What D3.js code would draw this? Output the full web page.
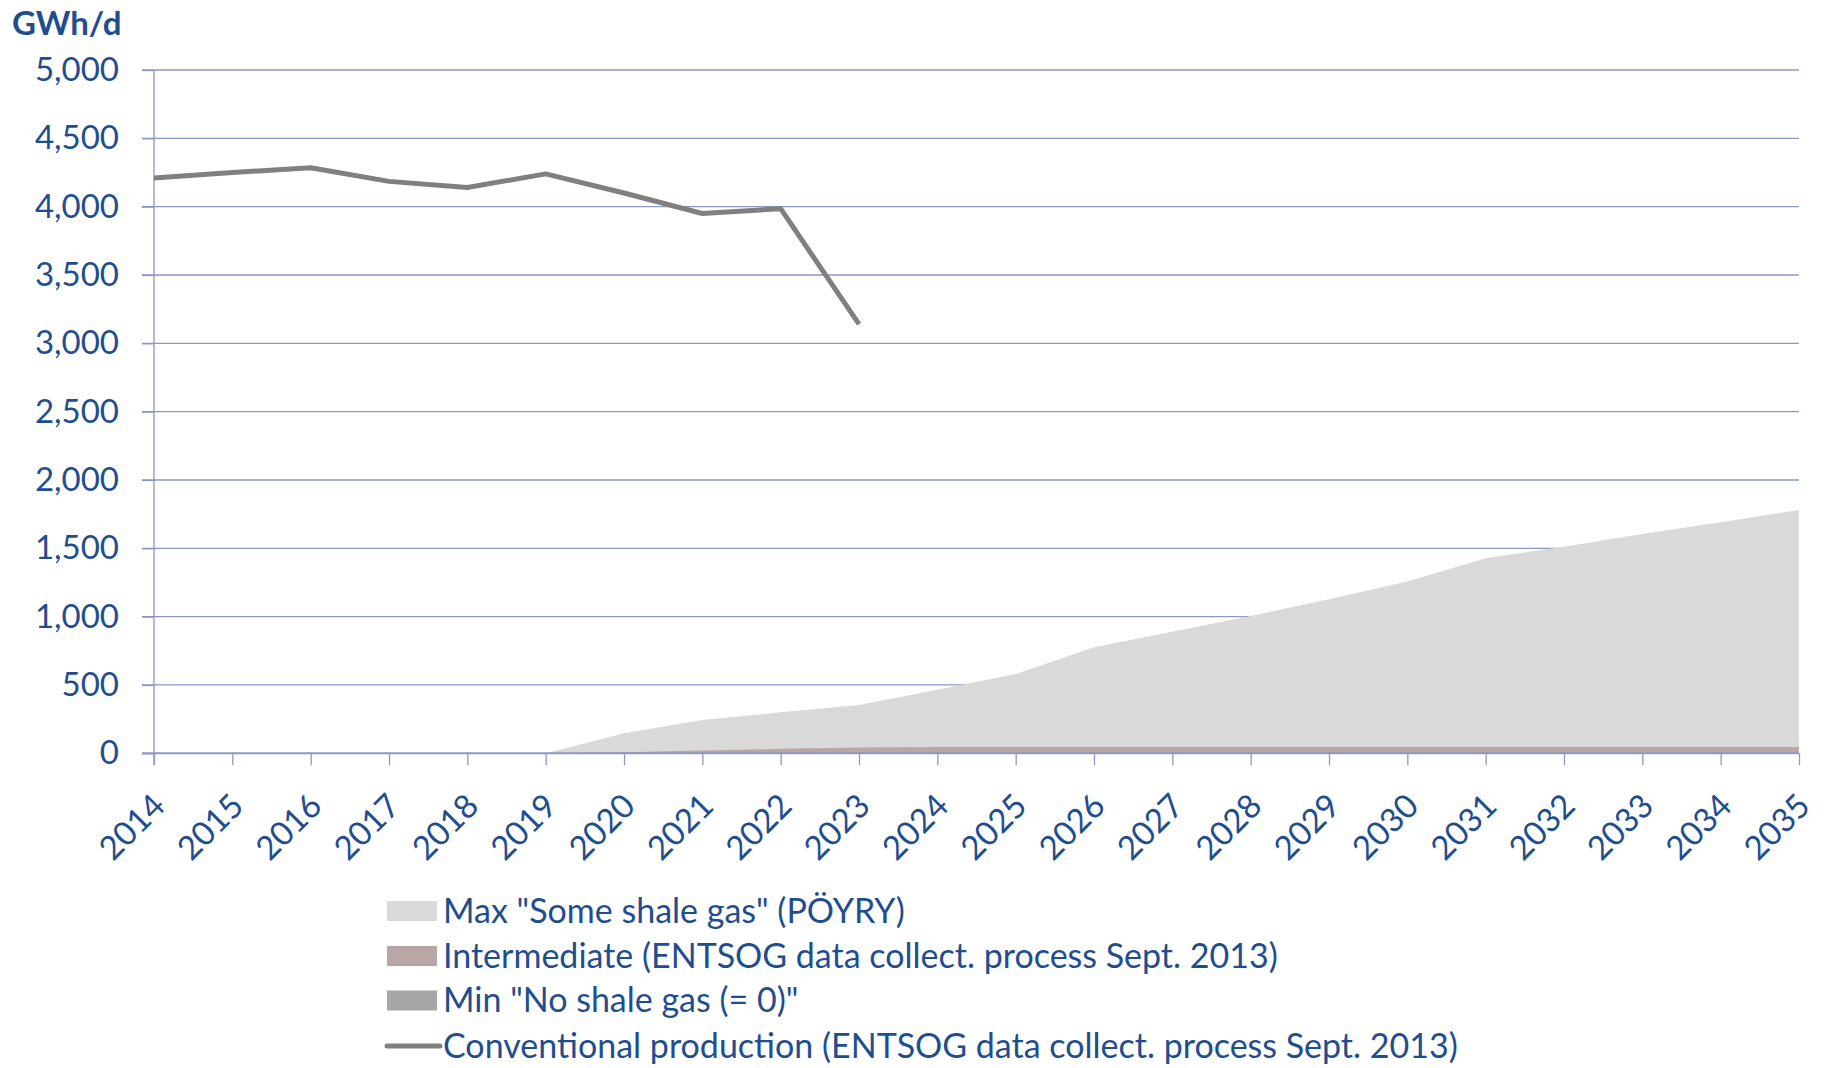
<!DOCTYPE html>
<html>
<head>
<meta charset="utf-8">
<script src="https://cdn.jsdelivr.net/npm/d3@7/dist/d3.min.js"></script>
<style>
  body { margin: 0; background: #fff; }
  text { font-family: Lato, "Open Sans", sans-serif; fill: #1F4E8F; }
</style>
</head>
<body>
<svg id="chart" width="1824" height="1068"></svg>
<script>
// years on the x axis
var years = d3.range(2014, 2036);
var yTicks = [0, 500, 1000, 1500, 2000, 2500, 3000, 3500, 4000, 4500, 5000];

// conventional production 2014-2023
var convYears = [2014, 2015, 2016, 2017, 2018, 2019, 2020, 2021, 2022, 2023];
var convValues = [4210, 4250, 4285, 4185, 4140, 4240, 4100, 3950, 3985, 3140];

// shale scenarios 2018-2035
var shaleYears = [2018, 2019, 2020, 2021, 2022, 2023, 2024, 2025, 2026, 2027, 2028, 2029, 2030, 2031, 2032, 2033, 2034, 2035];
var maxShale = [0, 0, 146, 244, 300, 354, 465, 580, 776, 890, 1005, 1127, 1258, 1427, 1512, 1605, 1690, 1780];
var intermShale = [0, 0, 8, 20, 33, 42, 46, 46, 46, 46, 46, 46, 46, 46, 46, 46, 46, 46];
var minShale = [0, 0, 0, 0, 0, 0, 0, 0, 0, 0, 0, 0, 0, 0, 0, 0, 0, 0];

var legendLabels = [
    'Max "Some shale gas" (PÖYRY)',
    'Intermediate (ENTSOG data collect. process Sept. 2013)',
    'Min "No shale gas (= 0)"',
    'Conventional production (ENTSOG data collect. process Sept. 2013)'
];
var legendColors = ['#D9D9D9', '#B9A6A6', '#A6A6A6', '#808080'];

var gridColor = '#8C97C4';
var svg = d3.select('#chart');

var x = d3.scaleLinear().domain([2014, 2035]).range([154, 1799]);
var y = d3.scaleLinear().domain([0, 5000]).range([753.3, 70]);

// gridlines
svg.append('g')
    .selectAll('line')
    .data(yTicks.filter(function(d) { return d > 0; }))
    .enter().append('line')
    .attr('x1', 142).attr('x2', 1799)
    .attr('y1', function(d) { return y(d); })
    .attr('y2', function(d) { return y(d); })
    .attr('stroke', gridColor)
    .attr('stroke-width', 1.3);

// areas (overlapping, not stacked)
function areaOf(vals) {
    return d3.area()
        .x(function(d, i) { return x(shaleYears[i]); })
        .y0(y(0))
        .y1(function(d) { return y(d); })(vals);
}
[maxShale, intermShale, minShale].forEach(function(vals, i) {
    svg.append('path')
        .attr('d', areaOf(vals))
        .attr('fill', legendColors[i]);
});

// y axis
var yAxis = d3.axisLeft(y).tickValues(yTicks).tickSize(12).tickPadding(23)
    .tickFormat(d3.format(','));
var gy = svg.append('g').attr('transform', 'translate(154,0)').call(yAxis);
gy.select('.domain').attr('stroke', gridColor).attr('stroke-width', 1.3)
    .attr('d', 'M0,70V765');
gy.selectAll('.tick line').attr('stroke', gridColor).attr('stroke-width', 1.3);
gy.selectAll('.tick text').attr('font-size', 33).attr('fill', '#1F4E8F');

// x axis
var xAxis = d3.axisBottom(x).tickValues(years).tickSize(12).tickFormat(d3.format('d'));
var gx = svg.append('g').attr('transform', 'translate(0,' + y(0) + ')').call(xAxis);
gx.select('.domain').attr('stroke', gridColor).attr('stroke-width', 2)
    .attr('d', 'M142,0H1799');
gx.selectAll('.tick line').attr('stroke', gridColor).attr('stroke-width', 1.3);
gx.selectAll('.tick text')
    .attr('font-size', 33)
    .attr('fill', '#1F4E8F')
    .attr('text-anchor', 'end')
    .attr('dy', 0)
    .attr('transform', 'translate(2,44) rotate(-45)');

// conventional production line
var line = d3.line()
    .x(function(d, i) { return x(convYears[i]); })
    .y(function(d) { return y(d); });
svg.append('path')
    .attr('d', line(convValues))
    .attr('fill', 'none')
    .attr('stroke', '#808080')
    .attr('stroke-width', 5)
    .attr('stroke-linejoin', 'round');

// unit label
svg.append('text')
    .attr('x', 12).attr('y', 35)
    .attr('font-size', 33)
    .attr('font-weight', 'bold')
    .text('GWh/d');

// legend
var rowY = [911, 956, 1000.5, 1046];
var legend = svg.append('g');
legendLabels.forEach(function(lab, i) {
    if (i < 3) {
        legend.append('rect')
            .attr('x', 387).attr('y', rowY[i] - 10)
            .attr('width', 50).attr('height', 20)
            .attr('fill', legendColors[i]);
    } else {
        legend.append('line')
            .attr('x1', 387).attr('x2', 440)
            .attr('y1', rowY[i]).attr('y2', rowY[i])
            .attr('stroke', legendColors[i])
            .attr('stroke-width', 5)
            .attr('stroke-linecap', 'round');
    }
    legend.append('text')
        .attr('x', 443).attr('y', rowY[i])
        .attr('dy', '0.35em')
        .attr('font-size', 34)
        .text(lab);
});
</script>
</body>
</html>
